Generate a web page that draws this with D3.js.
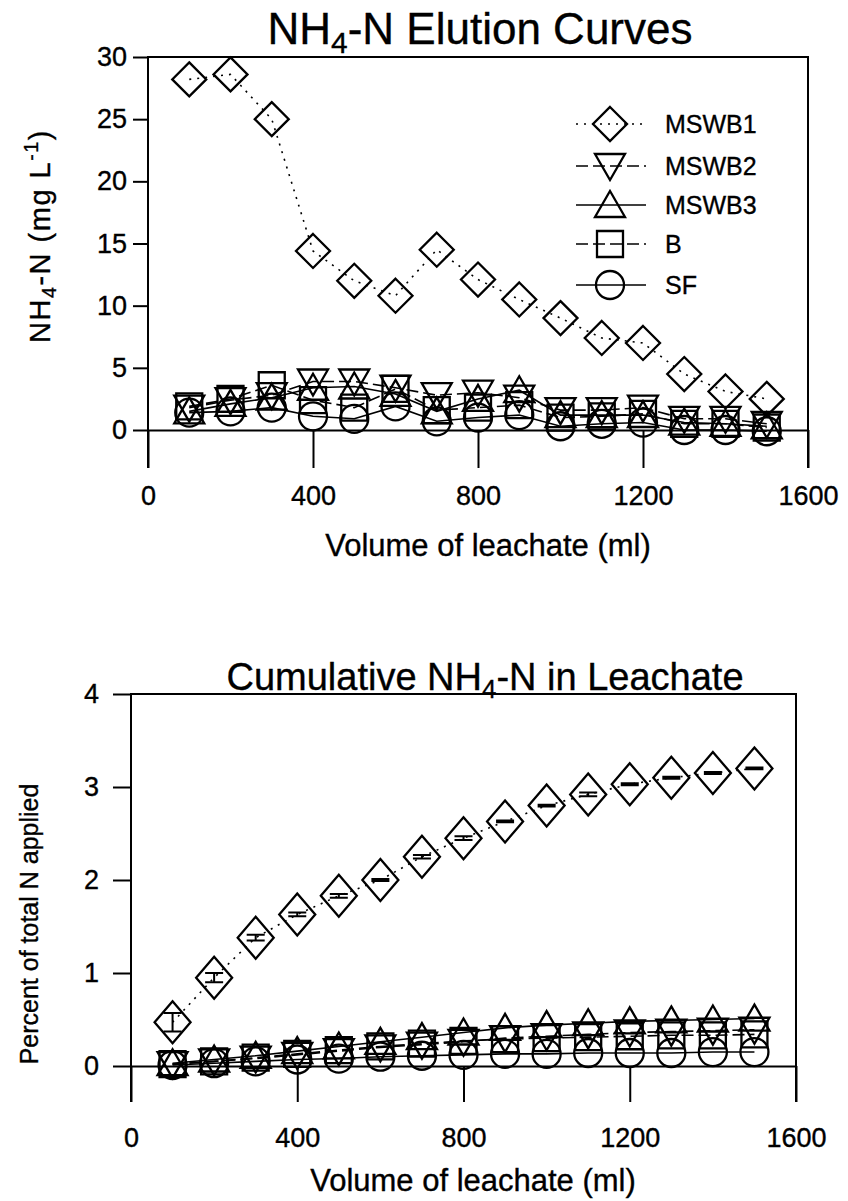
<!DOCTYPE html>
<html>
<head>
<meta charset="utf-8">
<script src="https://cdn.jsdelivr.net/npm/d3@7"></script>
<style>
  body { margin: 0; background: #fff; }
  text { font-family: "Liberation Sans", Arial, sans-serif; fill: #000; stroke: #000; stroke-width: 0.35px; }
</style>
</head>
<body>
<svg id="fig" width="848" height="1201"></svg>
<script>
// leachate volume (ml) for every sample
const volume = [100, 200, 300, 400, 500, 600, 700, 800, 900, 1000, 1100, 1200, 1300, 1400, 1500];
const seriesNames = ["MSWB1", "MSWB2", "MSWB3", "B", "SF"];
const xTicks = [0, 400, 800, 1200, 1600];

// NH4-N concentration in leachate (mg/L)
const elutionMSWB1 = [28.2, 28.6, 25.0, 14.4, 12.0, 10.8, 14.5, 12.1, 10.5, 9.0, 7.4, 7.0, 4.5, 3.1, 2.5];
const elutionMSWB2 = [1.8, 2.4, 2.8, 3.9, 3.9, 3.4, 2.8, 3.0, 2.6, 1.6, 1.6, 1.8, 0.9, 0.9, 0.5];
const elutionMSWB3 = [1.5, 2.1, 2.6, 3.4, 3.5, 2.9, 1.5, 2.5, 3.2, 1.2, 1.2, 1.2, 0.6, 0.5, 0.3];
const elutionB     = [1.9, 2.5, 3.6, 2.4, 1.8, 3.3, 1.6, 1.8, 2.0, 1.0, 1.1, 1.3, 0.5, 0.5, 0.2];
const elutionSF    = [1.4, 1.5, 1.8, 1.1, 0.9, 1.9, 0.7, 1.0, 1.2, 0.3, 0.5, 0.6, 0.0, 0.0, -0.1];
const elutionYTicks = [0, 5, 10, 15, 20, 25, 30];

// cumulative NH4-N leached (% of total N applied)
const cumMSWB1    = [0.47, 0.95, 1.38, 1.63, 1.83, 2.0, 2.25, 2.45, 2.63, 2.8, 2.92, 3.03, 3.1, 3.15, 3.2];
const cumMSWB1Err = [0.1, 0.05, 0.03, 0.02, 0.02, 0.01, 0.02, 0.02, 0.01, 0.01, 0.02, 0.01, 0.01, 0.01, 0.01];
const cumMSWB2    = [0.02, 0.05, 0.08, 0.12, 0.16, 0.2, 0.23, 0.26, 0.3, 0.32, 0.34, 0.36, 0.37, 0.38, 0.39];
const cumMSWB3    = [0.03, 0.07, 0.11, 0.16, 0.21, 0.26, 0.31, 0.36, 0.41, 0.44, 0.46, 0.48, 0.49, 0.5, 0.51];
const cumB        = [0.02, 0.05, 0.09, 0.13, 0.17, 0.21, 0.24, 0.27, 0.29, 0.3, 0.31, 0.32, 0.33, 0.33, 0.34];
const cumSF       = [0.01, 0.03, 0.05, 0.07, 0.08, 0.1, 0.11, 0.12, 0.13, 0.13, 0.14, 0.14, 0.14, 0.15, 0.15];
const cumYTicks = [0, 1, 2, 3, 4];

const svg = d3.select("#fig");

// marker outlines, centred on 0,0
const marker = {
  diamond: (w, h) => `M0,${-h}L${w},0L0,${h}L${-w},0Z`,
  down: () => "M-15,-12L15,-12L0,14Z",
  up: () => "M0,-14L15,12L-15,12Z",
  square: () => "M-13,-13H13V13H-13Z",
  circle: () => "M14,0A14,14 0 1,1 -14,0A14,14 0 1,1 14,0Z"
};
const style = {
  MSWB1: {shape: "diamond", dash: "2,6"},
  MSWB2: {shape: "down", dash: "12,5"},
  MSWB3: {shape: "up", dash: null},
  B: {shape: "square", dash: "12,5"},
  SF: {shape: "circle", dash: null}
};

function subText(sel, parts) {
  // parts: [text, shift] where shift: 0 normal, 1 sub, -1 sup
  parts.forEach(([t, s]) => {
    const ts = sel.append("tspan").text(t);
    if (s !== 0) ts.attr("font-size", "68%").attr("baseline-shift", s > 0 ? "-30%" : "60%");
  });
}

function panel(o) {
  const g = svg.append("g");
  const x = d3.scaleLinear().domain([0, 1600]).range([o.left, o.right]);
  const y = d3.scaleLinear().domain([0, o.yMax]).range([o.zeroY, o.top]);

  // frame (no bottom edge)
  g.append("path")
    .attr("d", `M${o.left},${o.bottom}V${o.top}H${o.right}V${o.bottom}`)
    .attr("fill", "none").attr("stroke", "#000").attr("stroke-width", 2);

  g.append("g")
    .attr("transform", `translate(0,${o.zeroY})`)
    .call(d3.axisBottom(x).tickValues(xTicks).tickFormat(d3.format("d"))
      .tickSize(o.bottom - o.zeroY).tickPadding(o.xPad).tickSizeOuter(0))
    .call(a => a.selectAll("line, path").attr("stroke", "#000").attr("stroke-width", 2))
    .call(a => a.selectAll("text").attr("font-size", 27));

  g.append("g")
    .attr("transform", `translate(${o.left},0)`)
    .call(d3.axisLeft(y).tickValues(o.yTicks).tickFormat(d3.format("d"))
      .tickSize(o.tick).tickPadding(o.yPad).tickSizeOuter(0))
    .call(a => a.select(".domain").remove())
    .call(a => a.selectAll("line").attr("stroke", "#000").attr("stroke-width", 2))
    .call(a => a.selectAll("text").attr("font-size", 27));

  subText(g.append("text").attr("x", o.titleX).attr("y", o.titleY)
    .attr("text-anchor", "middle").attr("font-size", o.titleSize), o.title);

  g.append("text").attr("x", o.xLabelX).attr("y", o.xLabelY)
    .attr("text-anchor", "middle").attr("font-size", 31).text("Volume of leachate (ml)");

  subText(g.append("text")
    .attr("transform", `translate(${o.yLabelX},${o.yLabelY}) rotate(-90)`)
    .attr("text-anchor", "middle").attr("font-size", o.yLabelSize)
    .attr("letter-spacing", o.yLabelSpacing), o.yLabel);

  const line = d3.line().x(d => x(d[0])).y(d => y(d[1]));

  o.series.forEach(s => {
    const st = style[s.name];
    const pts = volume.map((v, i) => [v, s.values[i]]);
    g.append("path").attr("d", line(pts))
      .attr("fill", "none").attr("stroke", "#000").attr("stroke-width", 1.6)
      .attr("stroke-dasharray", st.dash);
    if (s.err) {
      g.append("g").selectAll("path").data(pts).join("path")
        .attr("d", (d, i) => {
          const cx = x(d[0]), y0 = y(d[1] - s.err[i]), y1 = y(d[1] + s.err[i]);
          return `M${cx - 9},${y0}H${cx + 9}M${cx},${y0}V${y1}M${cx - 9},${y1}H${cx + 9}`;
        })
        .attr("stroke", "#000").attr("stroke-width", 2).attr("fill", "none");
    }
    g.append("g").selectAll("path").data(pts).join("path")
      .attr("transform", d => `translate(${x(d[0])},${y(d[1])})`)
      .attr("d", marker[st.shape](o.dw, o.dh))
      .attr("fill", "none").attr("stroke", "#000").attr("stroke-width", 2.3);
  });

  if (o.legend) {
    const lg = g.append("g").selectAll("g").data(seriesNames).join("g")
      .attr("transform", (d, i) => `translate(610,${o.legend[i]})`);
    lg.append("path").attr("d", "M-34,0H36")
      .attr("stroke", "#000").attr("stroke-width", 1.6)
      .attr("stroke-dasharray", d => style[d].dash);
    lg.append("path").attr("d", d => marker[style[d].shape](17, 17))
      .attr("fill", "none").attr("stroke", "#000").attr("stroke-width", 2.3);
    lg.append("text").attr("x", 55).attr("dy", "0.36em").attr("font-size", 25).text(d => d);
  }
}

panel({
  left: 148, right: 808, top: 57, zeroY: 430, bottom: 468, yMax: 30,
  yTicks: elutionYTicks, tick: 15, yPad: 6, xPad: 18,
  title: [["NH", 0], ["4", 1], ["-N Elution Curves", 0]], titleX: 480, titleY: 44, titleSize: 44,
  xLabelX: 488, xLabelY: 556, yLabelX: 50, yLabelY: 236, yLabelSize: 29, yLabelSpacing: 1.5,
  yLabel: [["NH", 0], ["4", 1], ["-N (mg L", 0], ["-1", -1], [")", 0]],
  dw: 17, dh: 17,
  series: [
    {name: "MSWB1", values: elutionMSWB1},
    {name: "MSWB2", values: elutionMSWB2},
    {name: "MSWB3", values: elutionMSWB3},
    {name: "B", values: elutionB},
    {name: "SF", values: elutionSF}
  ],
  legend: [124, 166, 205, 244, 285]
});

panel({
  left: 131, right: 796, top: 694, zeroY: 1066, bottom: 1102, yMax: 4,
  yTicks: cumYTicks, tick: 18, yPad: 14, xPad: 26,
  title: [["Cumulative NH", 0], ["4", 1], ["-N in Leachate", 0]], titleX: 485, titleY: 690, titleSize: 38,
  xLabelX: 473, xLabelY: 1191, yLabelX: 38, yLabelY: 924, yLabelSize: 25, yLabelSpacing: 0,
  yLabel: [["Percent of total N applied", 0]],
  dw: 18, dh: 21,
  series: [
    {name: "MSWB1", values: cumMSWB1, err: cumMSWB1Err},
    {name: "MSWB2", values: cumMSWB2},
    {name: "MSWB3", values: cumMSWB3},
    {name: "B", values: cumB},
    {name: "SF", values: cumSF}
  ],
  legend: null
});
</script>
</body>
</html>
